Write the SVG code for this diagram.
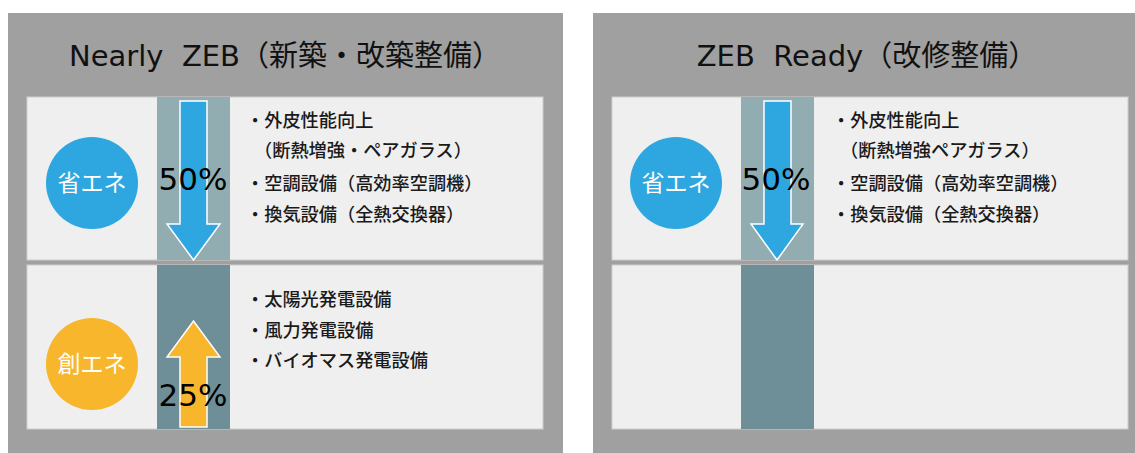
<svg xmlns="http://www.w3.org/2000/svg" width="1135" height="453" viewBox="0 0 1135 453">
<style>
.panel{fill:#9fa09f}
.cell{fill:#efefef;stroke:#cdcdcd;stroke-width:1}
.colU{fill:#92adb1}
.colL{fill:#6f8f98}
.title{font-family:"DejaVu Sans","Noto Sans CJK JP",sans-serif;font-size:29px;fill:#111;text-anchor:middle;white-space:pre}
.item{font-family:"Noto Sans CJK JP",sans-serif;font-size:18.2px;fill:#1a1a1a;font-weight:500}
.ctext{font-family:"Noto Sans CJK JP",sans-serif;font-size:23px;fill:#fff;text-anchor:middle}
.pct{font-family:"DejaVu Sans",sans-serif;font-size:31px;fill:#000;text-anchor:middle}
.blue{fill:#2ea7e0;stroke:#fff;stroke-width:1.5}
.orange{fill:#f8b62d;stroke:#fff;stroke-width:1.5}
</style>
<rect width="1135" height="453" fill="#fff"/>

<g id="panel-nearly-zeb">
  <rect class="panel" x="8" y="13" width="555" height="440"/>
  <text class="title" x="285" y="66" xml:space="preserve">Nearly  ZEB（新築・改築整備）</text>
  <rect class="cell" x="27" y="97" width="516" height="163"/>
  <rect class="colU" x="157" y="97" width="73" height="163"/>
  <rect class="cell" x="27" y="265" width="516" height="164"/>
  <rect class="colL" x="157" y="265" width="73" height="164"/>
</g>

<g id="node-left-shoene">
  <circle cx="92" cy="183" r="46" fill="#2ea7e0"/>
  <text class="ctext" x="92" y="191">省エネ</text>
</g>
<g id="node-left-soene">
  <circle cx="92" cy="364" r="46" fill="#f8b62d"/>
  <text class="ctext" x="92" y="372">創エネ</text>
</g>

<g id="left-shoene-list">
  <text class="item" x="246" y="127">・外皮性能向上</text>
  <text class="item" x="254" y="157">（断熱増強・ペアガラス）</text>
  <text class="item" x="246" y="190">・空調設備（高効率空調機）</text>
  <text class="item" x="246" y="221">・換気設備（全熱交換器）</text>
</g>
<g id="left-soene-list">
  <text class="item" x="246" y="306">・太陽光発電設備</text>
  <text class="item" x="246" y="337">・風力発電設備</text>
  <text class="item" x="246" y="367">・バイオマス発電設備</text>
</g>

<g id="panel-zeb-ready">
  <rect class="panel" x="593" y="13" width="550" height="440"/>
  <text class="title" x="867" y="66" xml:space="preserve">ZEB  Ready（改修整備）</text>
  <rect class="cell" x="612" y="97" width="516" height="163"/>
  <rect class="colU" x="741" y="97" width="73" height="163"/>
  <rect class="cell" x="612" y="265" width="516" height="164"/>
  <rect class="colL" x="741" y="265" width="73" height="164"/>
</g>

<g id="node-right-shoene">
  <circle cx="676" cy="183" r="46" fill="#2ea7e0"/>
  <text class="ctext" x="676" y="191">省エネ</text>
</g>

<g id="right-shoene-list">
  <text class="item" x="832" y="127">・外皮性能向上</text>
  <text class="item" x="840" y="157">（断熱増強ペアガラス）</text>
  <text class="item" x="832" y="190">・空調設備（高効率空調機）</text>
  <text class="item" x="832" y="221">・換気設備（全熱交換器）</text>
</g>

<g id="connectors">
  <path class="blue" d="M180,101 H207 V224 H220 L193.5,260 L167,224 H180 Z"/>
  <path class="orange" d="M180,427 V357 H167 L193.5,321 L220,357 H207 V427 Z"/>
  <path class="blue" d="M764,101 H791 V224 H803 L777,260 L751,224 H764 Z"/>
</g>

<g id="labels">
  <text class="pct" x="193" y="190">50%</text>
  <text class="pct" x="193" y="406">25%</text>
  <text class="pct" x="776" y="190">50%</text>
</g>
</svg>
